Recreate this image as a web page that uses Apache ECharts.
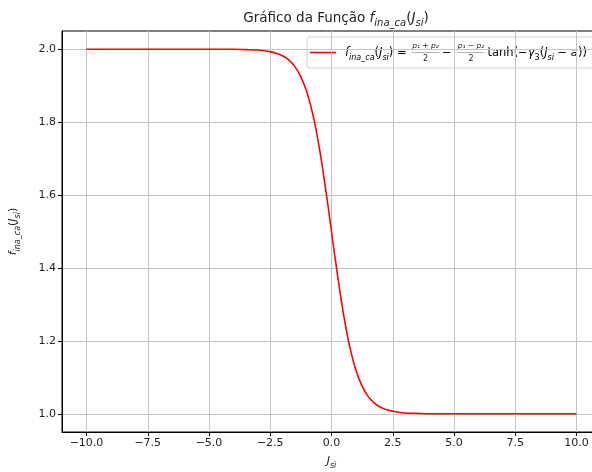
<!DOCTYPE html>
<html>
<head>
<meta charset="utf-8">
<script src="https://cdn.jsdelivr.net/npm/echarts@6/dist/echarts.min.js"></script>
<style>
  html, body { margin: 0; padding: 0; background: #fff; }
  #chart { width: 592px; height: 472px; }
</style>
</head>
<body>
<div id="chart"></div>
<script>
// Sampled values of f_ina_ca(J_si)
const jsi = [-10, -7.5, -5, -4, -3.5, -3, -2.75, -2.5, -2.25, -2, -1.75, -1.5, -1.25, -1, -0.75, -0.5, -0.25,
  0, 0.25, 0.5, 0.75, 1, 1.25, 1.5, 1.75, 2, 2.25, 2.5, 2.75, 3, 3.5, 4, 5, 7.5, 10];
const fVals = [2.000, 2.000, 2.000, 2.000, 1.999, 1.998, 1.996, 1.993, 1.989, 1.982, 1.971, 1.953, 1.924, 1.881, 1.818, 1.731, 1.622,
  1.500, 1.378, 1.269, 1.182, 1.119, 1.076, 1.047, 1.029, 1.018, 1.011, 1.007, 1.004, 1.002, 1.001, 1.000, 1.000, 1.000, 1.000];

// Tick positions
const xTicks = [-10, -7.5, -5, -2.5, 0, 2.5, 5, 7.5, 10];
const yTicks = [1.0, 1.2, 1.4, 1.6, 1.8, 2.0];

const FONT = 'DejaVu Sans';
const TXT = '#222';

const mathRich = (size) => {
  const sub = Math.round(size * 0.72);
  return {
    n: { fontFamily: FONT, fontWeight: 'normal', fontSize: size, color: TXT, lineHeight: size + 6 },
    i: { fontFamily: FONT, fontWeight: 'normal', fontStyle: 'italic', fontSize: size, color: TXT, lineHeight: size + 6 },
    s: { fontFamily: FONT, fontWeight: 'normal', fontStyle: 'italic', fontSize: sub, color: TXT,
         lineHeight: sub + 1, verticalAlign: 'bottom' },
    u: { fontFamily: FONT, fontWeight: 'normal', fontSize: sub, color: TXT,
         lineHeight: sub + 1, verticalAlign: 'bottom' }
  };
};

const chart = echarts.init(document.getElementById('chart'), null, { renderer: 'canvas' });

const fracY = 52.5;
const legendX = 307, legendY = 37;

function fraction(cx, num, halfW) {
  return [
    { type: 'text', silent: true, style: { x: cx, y: fracY - 6.5, text: num, align: 'center', verticalAlign: 'middle',
        fontFamily: FONT, fontStyle: 'italic', fontSize: 7.5, fill: TXT } },
    { type: 'line', silent: true, shape: { x1: cx - halfW, y1: fracY, x2: cx + halfW, y2: fracY },
        style: { stroke: '#666', lineWidth: 0.5 } },
    { type: 'text', silent: true, style: { x: cx, y: fracY + 6, text: '2', align: 'center', verticalAlign: 'middle',
        fontFamily: FONT, fontSize: 8, fill: TXT } }
  ];
}

chart.setOption({
  animation: false,
  backgroundColor: '#fff',
  title: {
    text: '{n|Gráfico da Função }{i|f}{s|ina_ca}{n|(}{i|J}{s|si}{n|)}',
    left: 331, top: 4, textAlign: 'center',
    textStyle: { fontWeight: 'normal', rich: mathRich(13.5) }
  },
  grid: {
    left: 62, top: 31, width: 539, height: 401,
    outerBoundsMode: 'none', containLabel: false,
    show: true, borderColor: '#000', borderWidth: 1, backgroundColor: 'transparent'
  },
  xAxis: {
    type: 'value', min: -11, max: 11,
    name: '{i|J}{s|si}', nameLocation: 'middle', nameGap: 21,
    nameTextStyle: { rich: mathRich(11) },
    axisLine: { show: true, onZero: false, lineStyle: { color: '#000', width: 1 } },
    axisTick: { show: true, length: 4, lineStyle: { color: '#000' }, customValues: xTicks },
    axisLabel: {
      customValues: xTicks, margin: 6, fontFamily: FONT, fontSize: 11, color: TXT,
      formatter: v => (v < 0 ? '\u2212' : '') + Math.abs(v).toFixed(1)
    },
    splitLine: { show: true, lineStyle: { color: '#c4c4c4', width: 1 } }
  },
  yAxis: {
    type: 'value', min: 0.95, max: 2.05,
    name: '{i|f}{s|ina_ca}{n|(}{i|J}{s|si}{n|)}', nameLocation: 'middle', nameGap: 40, nameRotate: 90,
    nameTextStyle: { rich: mathRich(11) },
    axisLine: { show: true, onZero: false, lineStyle: { color: '#000', width: 1 } },
    axisTick: { show: true, length: 4, lineStyle: { color: '#000' }, customValues: yTicks },
    axisLabel: {
      customValues: yTicks, margin: 6, fontFamily: FONT, fontSize: 11, color: TXT,
      formatter: v => v.toFixed(1)
    },
    splitLine: { show: true, lineStyle: { color: '#c4c4c4', width: 1 } }
  },
  series: [{
    type: 'line',
    data: jsi.map((x, k) => [x, fVals[k]]),
    showSymbol: false,
    smooth: 0.3,
    lineStyle: { color: '#ff0000', width: 1.6 },
    clip: true
  }],
  graphic: [
    { type: 'rect', silent: true, shape: { x: legendX, y: legendY, width: 300, height: 31, r: 3 },
      style: { fill: 'rgba(255,255,255,0.85)', stroke: '#d0d0d0', lineWidth: 1 } },
    { type: 'line', silent: true, shape: { x1: 310, y1: 52.5, x2: 336, y2: 52.5 },
      style: { stroke: '#ff0000', lineWidth: 1.6 } },
    { type: 'text', silent: true,
      style: { x: 345, y: 53, verticalAlign: 'middle',
        text: '{i|f}{s|ina_ca}{n|(}{i|J}{s|si}{n|) =}', rich: mathRich(11.5) } },
    ...fraction(425.5, 'p\u2081 + p\u2082', 14),
    { type: 'text', silent: true,
      style: { x: 442, y: 53, verticalAlign: 'middle', text: '{n|\u2212}', rich: mathRich(11.5) } },
    ...fraction(471, 'p\u2081 \u2212 p\u2082', 13.5),
    { type: 'text', silent: true,
      style: { x: 487.5, y: 53, verticalAlign: 'middle',
        text: '{n|tanh(\u2212}{i|\u03b3}{u|3}{n|(}{i|J}{s|si}{n| \u2212 }{i|a}{n|))}', rich: mathRich(11.5) } }
  ]
});
</script>
</body>
</html>
